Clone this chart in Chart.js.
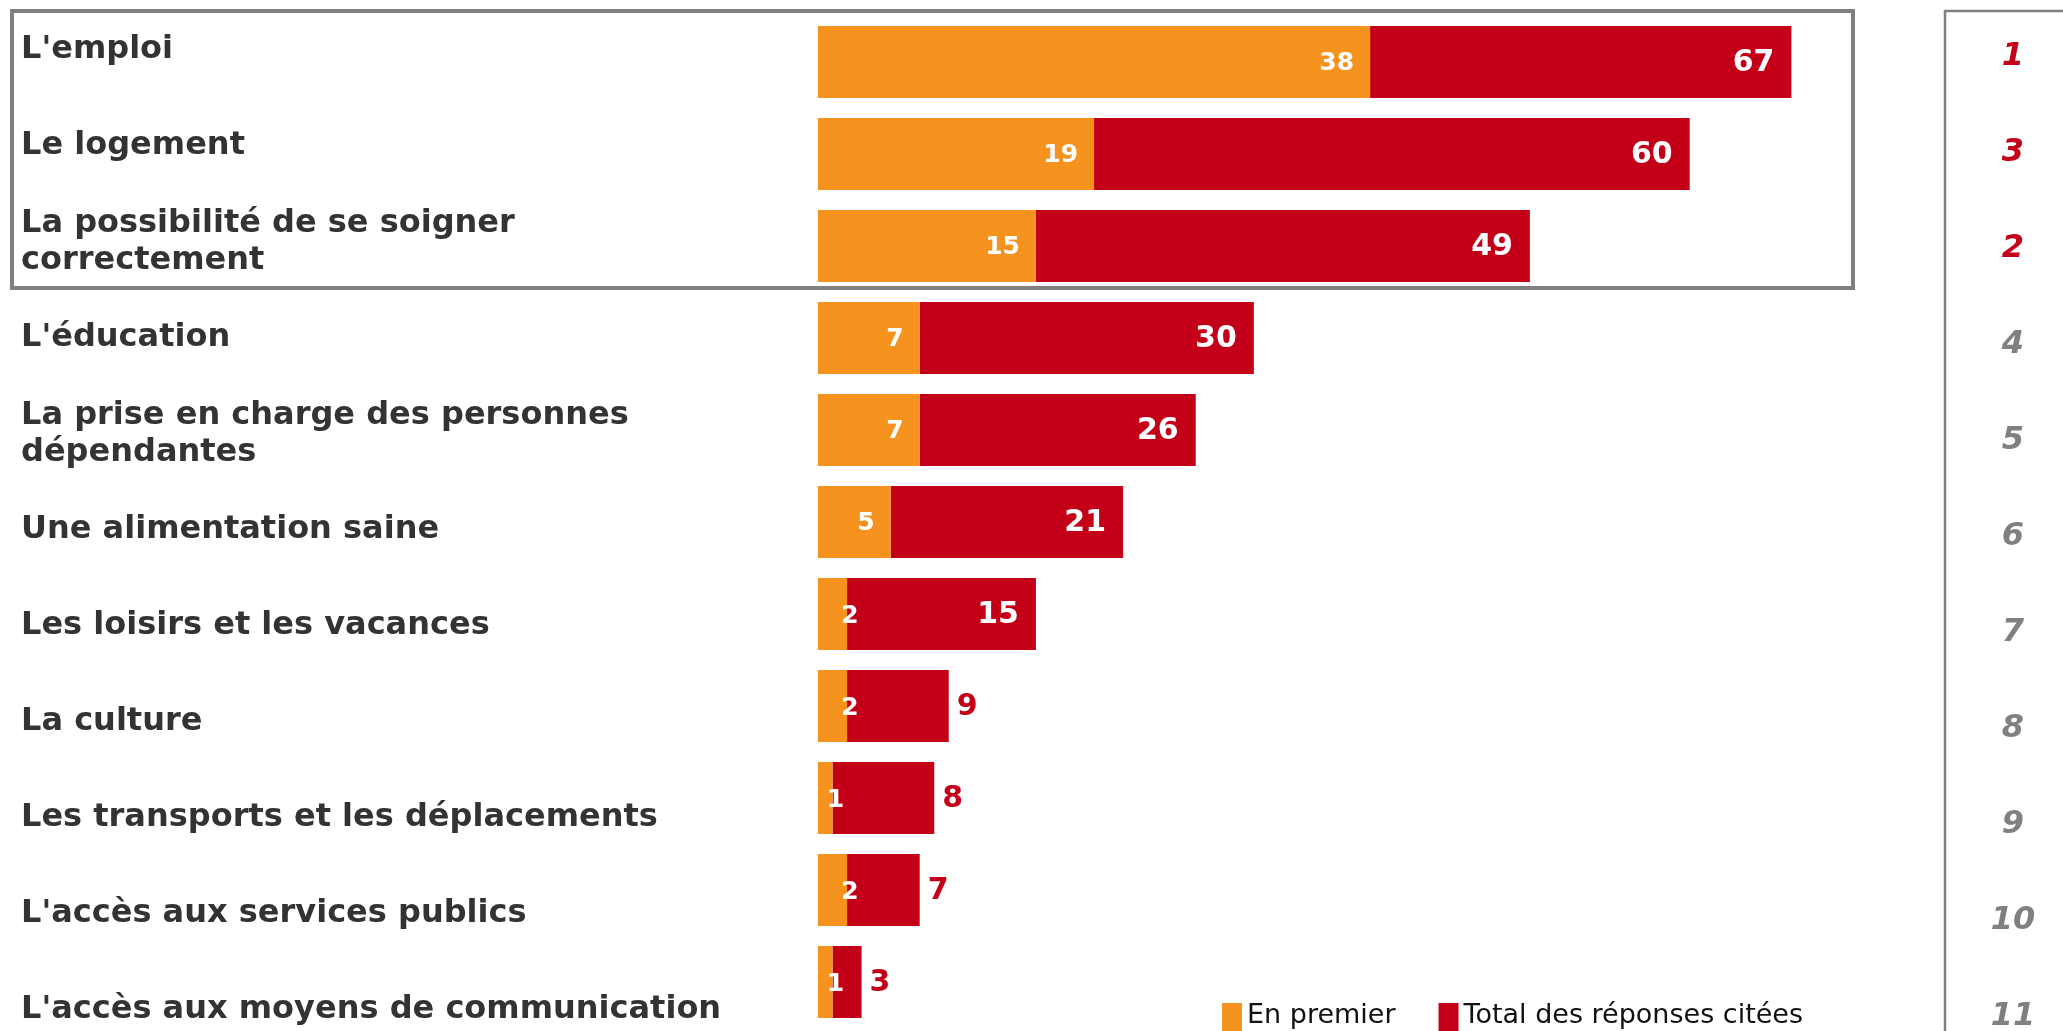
<!DOCTYPE html>
<html lang="fr">
<head>
<meta charset="utf-8">
<title>Priorités</title>
<script src="https://cdn.jsdelivr.net/npm/chart.js@4.4.1/dist/chart.umd.min.js"></script>
<style>
  html, body { margin: 0; padding: 0; background: #fff; }
  #wrap { position: relative; width: 2063px; height: 1031px; }
</style>
</head>
<body>
<div id="wrap"><canvas id="chart" width="2063" height="1031"></canvas></div>
<script>
const categories = [
  "L'emploi",
  'Le logement',
  ['La possibilité de se soigner', 'correctement'],
  "L'éducation",
  ['La prise en charge des personnes', 'dépendantes'],
  'Une alimentation saine',
  'Les loisirs et les vacances',
  'La culture',
  'Les transports et les déplacements',
  "L'accès aux services publics",
  "L'accès aux moyens de communication"
];
const firstChoice = [38, 19, 15, 7, 7, 5, 2, 2, 1, 2, 1];
const totalCited = [67, 60, 49, 30, 26, 21, 15, 9, 8, 7, 3];
const ranks = [1, 3, 2, 4, 5, 6, 7, 8, 9, 10, 11];
const seriesNames = ['En premier', 'Total des réponses citées'];

const ORANGE = '#F6921E';
const RED = '#C40018';
const GREY = '#808080';
const FONT = "'DejaVu Sans', Verdana, sans-serif";

// values written on the bars
const valueLabels = {
  id: 'valueLabels',
  afterDatasetsDraw(chart) {
    const ctx = chart.ctx;
    const first = chart.getDatasetMeta(0).data;
    const total = chart.getDatasetMeta(1).data;
    ctx.save();
    ctx.textBaseline = 'middle';

    first.forEach((bar, i) => {
      ctx.font = 'bold 25px ' + FONT;
      ctx.fillStyle = '#fff';
      const w = bar.x - bar.base;
      if (w > 50) {
        ctx.textAlign = 'right';
        ctx.fillText(firstChoice[i], bar.x - 16, bar.y + 1);
      } else {
        ctx.textAlign = 'center';
        ctx.fillText(firstChoice[i], bar.x + 3, bar.y + 2);
      }
    });

    total.forEach((bar, i) => {
      ctx.font = 'bold 30px ' + FONT;
      const w = bar.x - bar.base;
      if (w > 140) {
        ctx.fillStyle = '#fff';
        ctx.textAlign = 'right';
        ctx.fillText(totalCited[i], bar.x - 17, bar.y + 1);
      } else {
        ctx.fillStyle = RED;
        ctx.textAlign = 'left';
        ctx.fillText(totalCited[i], bar.x + 8, bar.y + 1);
      }
    });
    ctx.restore();
  }
};

// frame around the top three, rank column on the right, legend at the bottom
const decorations = {
  id: 'decorations',
  afterDraw(chart) {
    const ctx = chart.ctx;
    const y = chart.scales.y;
    const yl = chart.scales.yLabels;
    const area = chart.chartArea;
    const step = y.getPixelForValue(1) - y.getPixelForValue(0);
    ctx.save();

    // top-3 frame
    ctx.strokeStyle = GREY;
    ctx.lineWidth = 4;
    const top = y.getPixelForValue(0) - step / 2 - 5;
    const bottom = y.getPixelForValue(2) + step / 2 - 4;
    ctx.strokeRect(12, top, area.right + 18 - 12, bottom - top);

    // rank column
    const colX = chart.width - 118;
    ctx.lineWidth = 2.5;
    ctx.beginPath();
    ctx.moveTo(chart.width, 11);
    ctx.lineTo(colX, 11);
    ctx.lineTo(colX, chart.height);
    ctx.stroke();

    ctx.font = 'italic bold 32px ' + FONT;
    ctx.textAlign = 'center';
    ctx.textBaseline = 'middle';
    ranks.forEach((r, i) => {
      ctx.fillStyle = r <= 3 ? RED : GREY;
      ctx.fillText(r, colX + 68, yl.getPixelForValue(i) + 7);
    });

    // legend
    ctx.font = '27px ' + FONT;
    ctx.textAlign = 'left';
    let lx = 1222;
    chart.data.datasets.forEach(ds => {
      ctx.fillStyle = ds.backgroundColor;
      ctx.fillRect(lx, 1003, 20, 28);
      ctx.fillStyle = '#111';
      ctx.fillText(ds.label, lx + 25, 1016);
      lx += 25 + ctx.measureText(ds.label).width + 43;
    });

    ctx.restore();
  }
};

new Chart(document.getElementById('chart'), {
  type: 'bar',
  data: {
    labels: categories,
    datasets: [
      {
        label: seriesNames[0],
        data: firstChoice,
        backgroundColor: ORANGE,
        grouped: false,
        order: 0
      },
      {
        label: seriesNames[1],
        data: totalCited.map((t, i) => [firstChoice[i], t]),
        backgroundColor: RED,
        grouped: false,
        order: 1
      }
    ]
  },
  options: {
    indexAxis: 'y',
    responsive: false,
    animation: false,
    categoryPercentage: 1,
    barPercentage: 72 / 92,
    layout: {
      padding: { left: 21, right: 228, top: 16, bottom: 3 }
    },
    plugins: {
      legend: { display: false },
      tooltip: { enabled: false }
    },
    scales: {
      x: {
        display: false,
        min: 0,
        max: 70
      },
      y: {
        display: false
      },
      // text labels sit on a slightly wider pitch than the bars, as in the original slide
      yLabels: {
        type: 'linear',
        position: 'left',
        offset: false,
        reverse: true,
        min: -0.354,
        max: 10.188,
        grid: { display: false },
        border: { display: false },
        afterBuildTicks(scale) {
          scale.ticks = categories.map((c, i) => ({ value: i }));
        },
        ticks: {
          autoSkip: false,
          crossAlign: 'far',
          color: '#333',
          font: { family: FONT, size: 32, weight: 'bold', lineHeight: 1.17 },
          callback: v => categories[v]
        },
        afterFit(scale) {
          scale.width = 797;
          scale.paddingTop = 0;
          scale.paddingBottom = 0;
        }
      }
    }
  },
  plugins: [valueLabels, decorations]
});
</script>
</body>
</html>
